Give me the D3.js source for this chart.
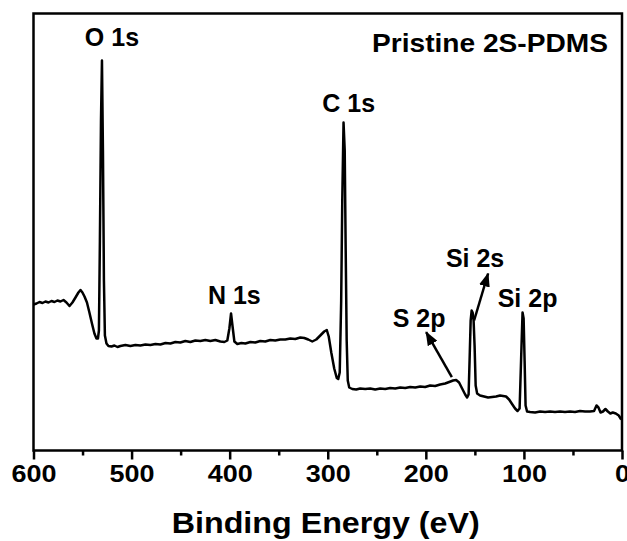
<!DOCTYPE html>
<html>
<head>
<meta charset="utf-8">
<script src="https://cdn.jsdelivr.net/npm/d3@7"></script>
<style>
  html, body { margin: 0; padding: 0; background: #fff; }
  svg { display: block; }
  text { font-family: "Liberation Sans", Arial, sans-serif; font-weight: bold; fill: #000; }
</style>
</head>
<body>
<svg id="chart" width="627" height="541"></svg>
<script>
// ---- Data (binding energy in eV, intensity in arbitrary units) ----
const energy = [
  600.0, 596.9, 593.9, 590.8, 587.8, 584.7, 581.7, 578.6, 575.6, 572.5,
  569.4, 566.4, 563.3, 560.3, 557.2, 554.2, 552.1, 550.1, 548.0, 545.5,
  543.0, 540.4, 537.9, 535.8, 534.3, 533.3, 532.3, 531.2, 530.2, 529.2,
  528.2, 527.2, 525.6, 523.6, 520.5, 517.5, 514.4, 511.4, 506.3, 501.2,
  496.1, 491.0, 485.9, 480.8, 475.7, 470.6, 465.5, 460.4, 455.4, 450.3,
  445.2, 440.1, 435.0, 429.9, 424.8, 419.7, 414.6, 409.5, 405.4, 402.4,
  400.3, 398.6, 396.8, 395.2, 392.2, 388.1, 384.0, 378.9, 373.9, 368.8,
  363.7, 358.6, 353.5, 348.4, 343.3, 338.2, 333.1, 328.0, 323.9, 319.9,
  315.8, 311.7, 307.6, 303.6, 301.0, 299.0, 296.4, 293.4, 290.8, 289.3,
  287.8, 286.3, 285.2, 283.9, 282.7, 281.7, 280.7, 279.6, 278.1, 275.0,
  271.0, 266.9, 261.8, 256.7, 251.6, 246.5, 241.4, 236.3, 231.2, 226.1,
  221.0, 215.9, 210.8, 205.7, 200.7, 195.6, 190.5, 185.4, 180.3, 176.2,
  172.2, 169.1, 166.1, 163.0, 159.9, 157.9, 156.4, 155.4, 154.3, 153.3,
  152.3, 151.3, 150.3, 149.2, 147.7, 144.7, 140.6, 136.5, 132.4, 128.4,
  124.3, 121.2, 118.2, 115.1, 112.1, 109.0, 106.5, 104.4, 102.9, 101.4,
  100.3, 99.3, 98.3, 96.8, 93.7, 88.6, 83.5, 78.4, 73.4, 68.3,
  63.2, 58.1, 53.0, 47.9, 42.8, 37.7, 32.6, 28.5, 26.0, 24.0,
  21.9, 19.4, 16.9, 14.4, 11.9, 9.4, 6.3, 3.3, 0.8
];
const intensity = [
  146, 147, 148.5, 147.5, 149, 148, 149.5, 148.5, 150, 149,
  150.5, 148, 144.5, 148, 153, 158, 160.5, 158, 154, 148,
  138, 127, 117, 112, 112, 120, 210, 330, 390, 300,
  170, 115, 107, 104.5, 104, 105, 103.5, 104.5, 105.5, 104.5,
  105.5, 105, 106, 105.5, 106.5, 106, 107.5, 107, 108.5, 108,
  109.5, 108.5, 110, 109.5, 110.5, 109.5, 110.5, 109, 108.5, 110,
  122, 137, 122, 109, 106.5, 107.5, 107, 108.5, 108, 109.5,
  109, 110.5, 110, 111, 111, 112, 111.5, 113, 112.5, 111,
  109, 111, 115, 119, 120.5, 114, 98, 82, 72.5, 71.5,
  78, 150, 250, 328, 300, 200, 110, 70, 63, 61.5,
  61, 62, 61.5, 62, 61, 62, 61.5, 62.5, 62, 63,
  62.5, 63.5, 63, 64, 63.5, 65, 64.5, 66, 67, 68.5,
  70, 70.5, 68, 62, 56, 53, 56, 90, 130, 140,
  138, 130, 105, 65, 57, 55, 54, 53, 53.5, 54,
  55, 54.5, 54, 51, 46.5, 42, 39.5, 42, 90, 138,
  132, 90, 45, 39, 38.5, 38, 39, 38.5, 39, 38.5,
  39, 38.5, 39, 38.5, 39.5, 39, 39, 39.5, 45, 43,
  38, 39, 41.5, 39, 37, 38, 37, 35, 31
];
const xTicks = [600, 500, 400, 300, 200, 100, 0];
const xMinorTicks = [550, 450, 350, 250, 150, 50];
const peakLabels = ["O 1s", "C 1s", "N 1s", "S 2p", "Si 2s", "Si 2p"];
const peakLabelE = [520, 278.6, 395.2, 206.8, 149.8, 96.3];
const peakLabelI = [405, 339, 147, 124, 183.5, 143.5];
// arrows: [tailE, tailI, tipE, tipI]
const arrowS2p = [173.5, 73.3, 199.7, 118.3];
const arrowSi2s = [150.8, 130, 136.5, 177];
const sampleTitle = "Pristine 2S-PDMS";
const xTitle = "Binding Energy (eV)";

// ---- Layout ----
const svg = d3.select("#chart");
const mLeft = 33.5, mRight = 622, mTop = 13.5, mBottom = 450.5;

const x = d3.scaleLinear().domain([600, 0]).range([mLeft, mRight]);
const y = d3.scaleLinear().domain([0, 437]).range([mBottom, mTop]);

const data = energy.map((e, i) => ({ e, v: intensity[i] }));

// arrow marker
svg.append("defs").append("marker")
  .attr("id", "ah")
  .attr("viewBox", "0 0 14 11")
  .attr("refX", 13).attr("refY", 5.5)
  .attr("markerWidth", 14).attr("markerHeight", 11)
  .attr("markerUnits", "userSpaceOnUse")
  .attr("orient", "auto")
  .append("path").attr("d", "M0,0 L14,5.5 L0,11 Z").attr("fill", "#000");

// spectrum line
svg.append("path")
  .datum(data)
  .attr("fill", "none")
  .attr("stroke", "#000")
  .attr("stroke-width", 2.5)
  .attr("stroke-linejoin", "round")
  .attr("d", d3.line().x(d => x(d.e)).y(d => y(d.v)));

// frame
svg.append("rect")
  .attr("x", mLeft).attr("y", mTop)
  .attr("width", mRight - mLeft).attr("height", mBottom - mTop)
  .attr("fill", "none").attr("stroke", "#000").attr("stroke-width", 2.5);

// x axis (major)
const gx = svg.append("g").attr("transform", `translate(0,${mBottom})`)
  .call(d3.axisBottom(x).tickValues(xTicks).tickSize(9).tickSizeOuter(0).tickPadding(5).tickFormat(d3.format("d")));
gx.select(".domain").remove();
gx.selectAll(".tick line").attr("stroke", "#000").attr("stroke-width", 2.5);
gx.selectAll(".tick text")
  .style("font-size", "24px")
  .style("font-family", "'Liberation Sans', Arial, sans-serif")
  .style("font-weight", "bold")
  .attr("fill", "#000")
  .attr("textLength", d => String(d).length * 15)
  .attr("lengthAdjust", "spacingAndGlyphs");

// minor ticks
const gm = svg.append("g").attr("transform", `translate(0,${mBottom})`)
  .call(d3.axisBottom(x).tickValues(xMinorTicks).tickSize(5).tickSizeOuter(0).tickFormat(""));
gm.select(".domain").remove();
gm.selectAll(".tick line").attr("stroke", "#000").attr("stroke-width", 2.5);

// axis title
svg.append("text")
  .attr("x", (mLeft + mRight) / 2 - 2).attr("y", 533)
  .attr("text-anchor", "middle")
  .attr("textLength", 308).attr("lengthAdjust", "spacingAndGlyphs")
  .style("font-size", "29px")
  .text(xTitle);

// sample title
svg.append("text")
  .attr("x", 608).attr("y", 52)
  .attr("text-anchor", "end")
  .attr("textLength", 236).attr("lengthAdjust", "spacingAndGlyphs")
  .style("font-size", "25px")
  .text(sampleTitle);

// peak labels
peakLabels.forEach((t, i) => {
  svg.append("text")
    .attr("x", x(peakLabelE[i])).attr("y", y(peakLabelI[i]))
    .attr("text-anchor", "middle")
    .style("font-size", "25px")
    .text(t);
});

// arrows
[arrowS2p, arrowSi2s].forEach(a => {
  svg.append("line")
    .attr("x1", x(a[0])).attr("y1", y(a[1]))
    .attr("x2", x(a[2])).attr("y2", y(a[3]))
    .attr("stroke", "#000").attr("stroke-width", 2.5)
    .attr("marker-end", "url(#ah)");
});
</script>
</body>
</html>
